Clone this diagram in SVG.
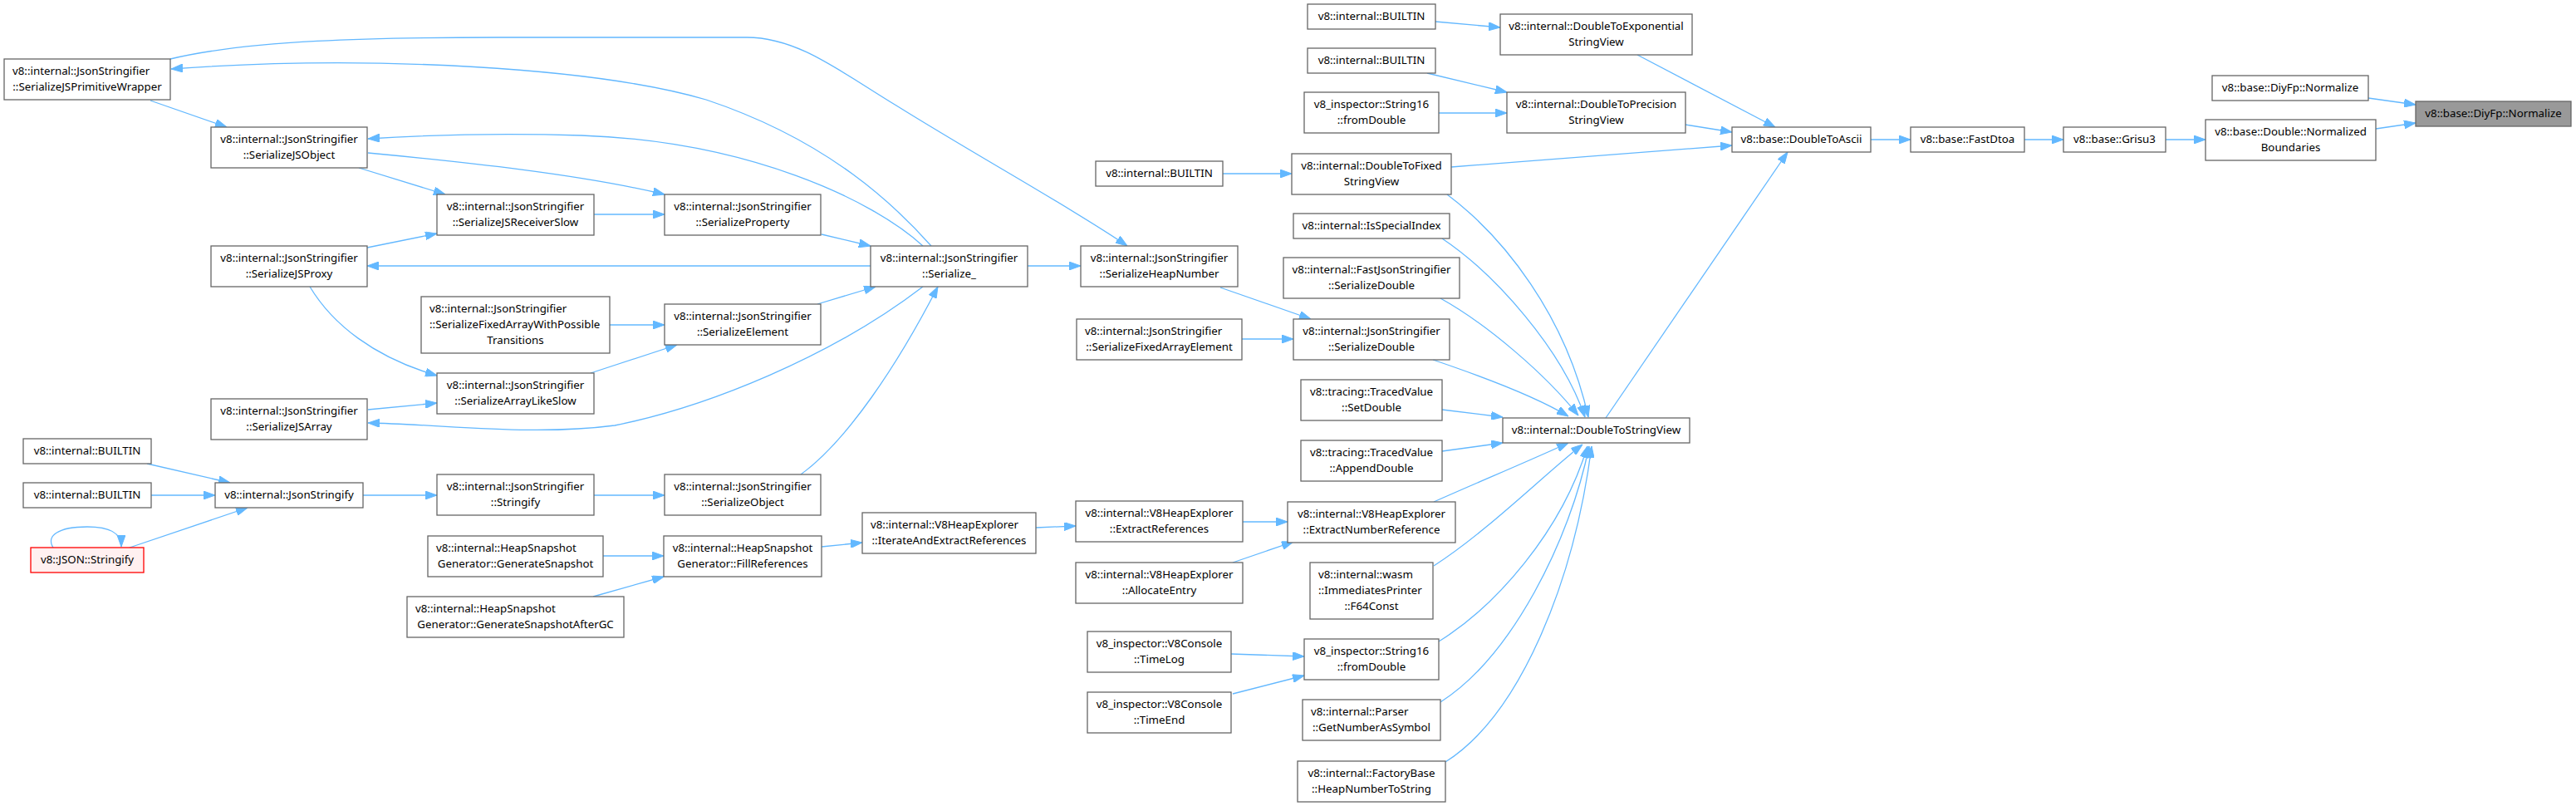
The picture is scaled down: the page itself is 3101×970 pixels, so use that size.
<svg xmlns="http://www.w3.org/2000/svg" width="3101" height="970" viewBox="0 0 3101 970">
<style>
.node rect{fill:#ffffff;stroke:#666666;stroke-width:1.3}
.node.root rect{fill:#999999}
.node.red rect{fill:#fff0f0;stroke:#ff0000}
text{font-family:"Noto Sans","DejaVu Sans",sans-serif;font-size:13.3px;fill:#000000}
.m{text-anchor:middle}
.s{text-anchor:start}
.edges path{fill:none;stroke:#63b8ff;stroke-width:1.3;marker-end:url(#ah)}
</style>
<defs>
<marker id="ah" viewBox="0 0 14 10" refX="14" refY="5" markerWidth="14" markerHeight="10" markerUnits="userSpaceOnUse" orient="auto">
<path d="M0,0 L14,5 L0,10 z" fill="#63b8ff" stroke="#63b8ff" stroke-width="1"/>
</marker>
</defs>
<rect x="0" y="0" width="3101" height="970" fill="#ffffff"/>
<g class="edges">
<path d="M2851,118 L2908,126"/>
<path d="M2860,155 L2908,148"/>
<path d="M2607,168 L2655,168"/>
<path d="M2437,168 L2484,168"/>
<path d="M2252,168 L2300,168"/>
<path d="M1971,66 L2137,153"/>
<path d="M2029,150 L2085,159"/>
<path d="M1747,201 L2085,175"/>
<path d="M1933,503 L2152,183"/>
<path d="M1728,26 L1806,33"/>
<path d="M1718,88 L1814,111"/>
<path d="M1732,136 L1814,136"/>
<path d="M1472,209 L1555,209"/>
<path d="M1742,234 C1810,285 1885,380 1912,502"/>
<path d="M1736,287 C1800,330 1880,420 1908,502"/>
<path d="M1734,359 C1790,390 1860,450 1900,500"/>
<path d="M1725,433 C1790,455 1850,478 1888,501"/>
<path d="M1469,346 L1578,384"/>
<path d="M1495,408 L1557,408"/>
<path d="M1736,493 L1809,502"/>
<path d="M1736,543 L1809,533"/>
<path d="M1726,604 C1780,580 1840,555 1888,533"/>
<path d="M1726,681 C1790,640 1860,570 1905,535"/>
<path d="M1732,772 C1800,730 1880,640 1911,537"/>
<path d="M1734,845 C1820,790 1890,650 1913,537"/>
<path d="M1740,917 C1830,860 1895,700 1916,537"/>
<path d="M1496,628 L1550,628"/>
<path d="M1484,677 L1557,652"/>
<path d="M1482,787 L1570,790"/>
<path d="M1484,835 L1570,813"/>
<path d="M1247,635 L1295,633"/>
<path d="M989,658 L1038,653"/>
<path d="M726,669 L799,669"/>
<path d="M714,718 L799,694"/>
<path d="M964,571 C1020,530 1080,440 1129,345"/>
<path d="M715,596 L800,596"/>
<path d="M437,596 L526,596"/>
<path d="M177,558 L277,581"/>
<path d="M182,596 L259,596"/>
<path d="M156,659 L298,611"/>
<path d="M64,659 C55,645 70,634 105,634 C130,634 146,640 146,658"/>
<path d="M1111,345 C1000,430 850,490 740,512 C640,525 540,511 443,509"/>
<path d="M1048,320 L442,320"/>
<path d="M1111,296 C1050,240 900,170 700,163 C600,160 520,162 443,167"/>
<path d="M1121,296 C1080,250 1000,170 850,120 C720,82 450,65 206,83"/>
<path d="M205,71 C300,48 450,45 600,45 L899,45 C960,45 1010,85 1079,127 C1180,190 1290,250 1357,296"/>
<path d="M181,121 L273,153"/>
<path d="M432,202 L536,234"/>
<path d="M443,184 C560,195 700,210 800,234"/>
<path d="M715,258 L800,258"/>
<path d="M442,298 L526,281"/>
<path d="M989,282 L1048,296"/>
<path d="M984,366 L1054,345"/>
<path d="M734,391 L800,391"/>
<path d="M711,449 L815,415"/>
<path d="M373,345 C400,390 450,430 526,452"/>
<path d="M443,493 L526,485"/>
<path d="M1237,320 L1301,320"/>
</g>
<g id="n1" class="node"><rect x="5" y="71" width="200" height="49"/><text class="s" x="15" y="90">v8::internal::JsonStringifier</text><text class="m" x="105" y="109">::SerializeJSPrimitiveWrapper</text></g>
<g id="n2" class="node"><rect x="254" y="153" width="188" height="49"/><text class="m" x="348" y="172">v8::internal::JsonStringifier</text><text class="m" x="348" y="191">::SerializeJSObject</text></g>
<g id="n3" class="node"><rect x="254" y="296" width="188" height="49"/><text class="m" x="348" y="315">v8::internal::JsonStringifier</text><text class="m" x="348" y="334">::SerializeJSProxy</text></g>
<g id="n4" class="node"><rect x="254" y="480" width="188" height="49"/><text class="m" x="348" y="499">v8::internal::JsonStringifier</text><text class="m" x="348" y="518">::SerializeJSArray</text></g>
<g id="n5" class="node"><rect x="259" y="581" width="178" height="30"/><text class="m" x="348" y="600">v8::internal::JsonStringify</text></g>
<g id="n6" class="node"><rect x="28" y="528" width="154" height="30"/><text class="m" x="105" y="547">v8::internal::BUILTIN</text></g>
<g id="n7" class="node"><rect x="28" y="581" width="154" height="30"/><text class="m" x="105" y="600">v8::internal::BUILTIN</text></g>
<g id="n8" class="node red"><rect x="37" y="659" width="136" height="30"/><text class="m" x="105" y="678">v8::JSON::Stringify</text></g>
<g id="n9" class="node"><rect x="526" y="234" width="189" height="49"/><text class="m" x="620.5" y="253">v8::internal::JsonStringifier</text><text class="m" x="620.5" y="272">::SerializeJSReceiverSlow</text></g>
<g id="n10" class="node"><rect x="507" y="357" width="227" height="68"/><text class="s" x="517" y="376">v8::internal::JsonStringifier</text><text class="s" x="517" y="395">::SerializeFixedArrayWithPossible</text><text class="m" x="620.5" y="414">Transitions</text></g>
<g id="n11" class="node"><rect x="526" y="449" width="189" height="49"/><text class="m" x="620.5" y="468">v8::internal::JsonStringifier</text><text class="m" x="620.5" y="487">::SerializeArrayLikeSlow</text></g>
<g id="n12" class="node"><rect x="526" y="571" width="189" height="49"/><text class="m" x="620.5" y="590">v8::internal::JsonStringifier</text><text class="m" x="620.5" y="609">::Stringify</text></g>
<g id="n13" class="node"><rect x="515" y="645" width="211" height="49"/><text class="s" x="525" y="664">v8::internal::HeapSnapshot</text><text class="m" x="620.5" y="683">Generator::GenerateSnapshot</text></g>
<g id="n14" class="node"><rect x="490" y="718" width="261" height="49"/><text class="s" x="500" y="737">v8::internal::HeapSnapshot</text><text class="m" x="620.5" y="756">Generator::GenerateSnapshotAfterGC</text></g>
<g id="n15" class="node"><rect x="800" y="234" width="188" height="49"/><text class="m" x="894" y="253">v8::internal::JsonStringifier</text><text class="m" x="894" y="272">::SerializeProperty</text></g>
<g id="n16" class="node"><rect x="800" y="366" width="188" height="49"/><text class="m" x="894" y="385">v8::internal::JsonStringifier</text><text class="m" x="894" y="404">::SerializeElement</text></g>
<g id="n17" class="node"><rect x="800" y="571" width="188" height="49"/><text class="m" x="894" y="590">v8::internal::JsonStringifier</text><text class="m" x="894" y="609">::SerializeObject</text></g>
<g id="n18" class="node"><rect x="799" y="645" width="190" height="49"/><text class="m" x="894" y="664">v8::internal::HeapSnapshot</text><text class="m" x="894" y="683">Generator::FillReferences</text></g>
<g id="n19" class="node"><rect x="1048" y="296" width="189" height="49"/><text class="m" x="1142.5" y="315">v8::internal::JsonStringifier</text><text class="m" x="1142.5" y="334">::Serialize_</text></g>
<g id="n20" class="node"><rect x="1038" y="617" width="209" height="49"/><text class="s" x="1048" y="636">v8::internal::V8HeapExplorer</text><text class="m" x="1142.5" y="655">::IterateAndExtractReferences</text></g>
<g id="n21" class="node"><rect x="1319" y="194" width="153" height="30"/><text class="m" x="1395.5" y="213">v8::internal::BUILTIN</text></g>
<g id="n22" class="node"><rect x="1301" y="296" width="189" height="49"/><text class="m" x="1395.5" y="315">v8::internal::JsonStringifier</text><text class="m" x="1395.5" y="334">::SerializeHeapNumber</text></g>
<g id="n23" class="node"><rect x="1296" y="384" width="199" height="49"/><text class="s" x="1306" y="403">v8::internal::JsonStringifier</text><text class="m" x="1395.5" y="422">::SerializeFixedArrayElement</text></g>
<g id="n24" class="node"><rect x="1295" y="603" width="201" height="49"/><text class="m" x="1395.5" y="622">v8::internal::V8HeapExplorer</text><text class="m" x="1395.5" y="641">::ExtractReferences</text></g>
<g id="n25" class="node"><rect x="1295" y="677" width="201" height="49"/><text class="m" x="1395.5" y="696">v8::internal::V8HeapExplorer</text><text class="m" x="1395.5" y="715">::AllocateEntry</text></g>
<g id="n26" class="node"><rect x="1309" y="760" width="173" height="49"/><text class="m" x="1395.5" y="779">v8_inspector::V8Console</text><text class="m" x="1395.5" y="798">::TimeLog</text></g>
<g id="n27" class="node"><rect x="1309" y="833" width="173" height="49"/><text class="m" x="1395.5" y="852">v8_inspector::V8Console</text><text class="m" x="1395.5" y="871">::TimeEnd</text></g>
<g id="n28" class="node"><rect x="1574" y="5" width="154" height="30"/><text class="m" x="1651" y="24">v8::internal::BUILTIN</text></g>
<g id="n29" class="node"><rect x="1574" y="58" width="154" height="30"/><text class="m" x="1651" y="77">v8::internal::BUILTIN</text></g>
<g id="n30" class="node"><rect x="1570" y="111" width="162" height="49"/><text class="m" x="1651" y="130">v8_inspector::String16</text><text class="m" x="1651" y="149">::fromDouble</text></g>
<g id="n31" class="node"><rect x="1555" y="185" width="192" height="49"/><text class="m" x="1651" y="204">v8::internal::DoubleToFixed</text><text class="m" x="1651" y="223">StringView</text></g>
<g id="n32" class="node"><rect x="1557" y="257" width="188" height="30"/><text class="m" x="1651" y="276">v8::internal::IsSpecialIndex</text></g>
<g id="n33" class="node"><rect x="1545" y="310" width="212" height="49"/><text class="m" x="1651" y="329">v8::internal::FastJsonStringifier</text><text class="m" x="1651" y="348">::SerializeDouble</text></g>
<g id="n34" class="node"><rect x="1557" y="384" width="188" height="49"/><text class="m" x="1651" y="403">v8::internal::JsonStringifier</text><text class="m" x="1651" y="422">::SerializeDouble</text></g>
<g id="n35" class="node"><rect x="1566" y="457" width="170" height="49"/><text class="m" x="1651" y="476">v8::tracing::TracedValue</text><text class="m" x="1651" y="495">::SetDouble</text></g>
<g id="n36" class="node"><rect x="1566" y="530" width="170" height="49"/><text class="m" x="1651" y="549">v8::tracing::TracedValue</text><text class="m" x="1651" y="568">::AppendDouble</text></g>
<g id="n37" class="node"><rect x="1550" y="604" width="202" height="49"/><text class="m" x="1651" y="623">v8::internal::V8HeapExplorer</text><text class="m" x="1651" y="642">::ExtractNumberReference</text></g>
<g id="n38" class="node"><rect x="1577" y="677" width="148" height="68"/><text class="s" x="1587" y="696">v8::internal::wasm</text><text class="s" x="1587" y="715">::ImmediatesPrinter</text><text class="m" x="1651" y="734">::F64Const</text></g>
<g id="n39" class="node"><rect x="1570" y="769" width="162" height="49"/><text class="m" x="1651" y="788">v8_inspector::String16</text><text class="m" x="1651" y="807">::fromDouble</text></g>
<g id="n40" class="node"><rect x="1568" y="842" width="166" height="49"/><text class="s" x="1578" y="861">v8::internal::Parser</text><text class="m" x="1651" y="880">::GetNumberAsSymbol</text></g>
<g id="n41" class="node"><rect x="1562" y="916" width="178" height="49"/><text class="m" x="1651" y="935">v8::internal::FactoryBase</text><text class="m" x="1651" y="954">::HeapNumberToString</text></g>
<g id="n42" class="node"><rect x="1806" y="17" width="231" height="49"/><text class="m" x="1921.5" y="36">v8::internal::DoubleToExponential</text><text class="m" x="1921.5" y="55">StringView</text></g>
<g id="n43" class="node"><rect x="1814" y="111" width="215" height="49"/><text class="m" x="1921.5" y="130">v8::internal::DoubleToPrecision</text><text class="m" x="1921.5" y="149">StringView</text></g>
<g id="n44" class="node"><rect x="1809" y="503" width="225" height="30"/><text class="m" x="1921.5" y="522">v8::internal::DoubleToStringView</text></g>
<g id="n45" class="node"><rect x="2085" y="153" width="167" height="30"/><text class="m" x="2168.5" y="172">v8::base::DoubleToAscii</text></g>
<g id="n46" class="node"><rect x="2300" y="153" width="137" height="30"/><text class="m" x="2368.5" y="172">v8::base::FastDtoa</text></g>
<g id="n47" class="node"><rect x="2484" y="153" width="123" height="30"/><text class="m" x="2545.5" y="172">v8::base::Grisu3</text></g>
<g id="n48" class="node"><rect x="2655" y="144" width="205" height="49"/><text class="m" x="2757.5" y="163">v8::base::Double::Normalized</text><text class="m" x="2757.5" y="182">Boundaries</text></g>
<g id="n49" class="node"><rect x="2663" y="91" width="188" height="30"/><text class="m" x="2757" y="110">v8::base::DiyFp::Normalize</text></g>
<g id="n50" class="node root"><rect x="2908" y="122" width="187" height="30"/><text class="m" x="3001.5" y="141">v8::base::DiyFp::Normalize</text></g>
</svg>
